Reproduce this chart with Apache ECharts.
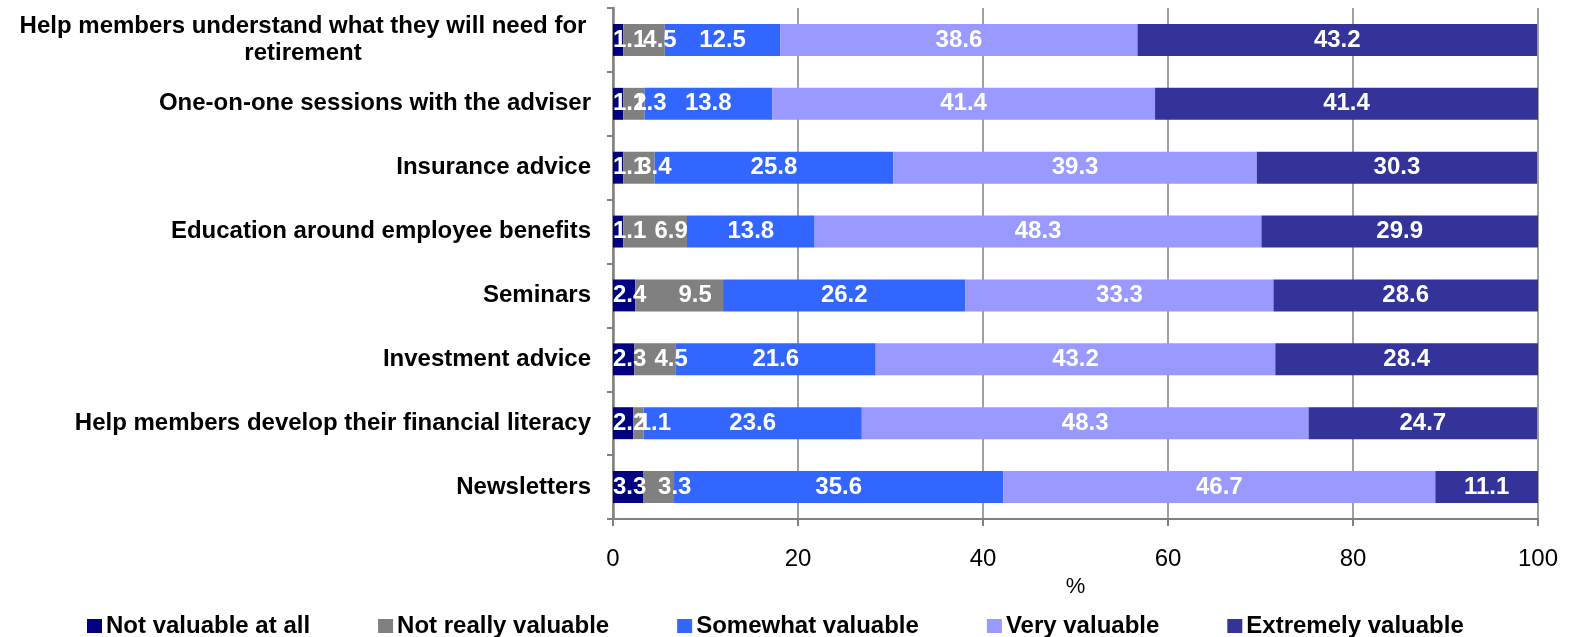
<!DOCTYPE html>
<html lang="en">
<head>
    <meta charset="UTF-8">
    <title>Value of adviser services</title>
    <style>
        html, body { margin: 0; padding: 0; background: #fff; }
        #main { width: 1572px; height: 637px; }
    </style>
</head>
<body>
    <div id="main"></div>
<script src="https://cdn.jsdelivr.net/npm/echarts@6/dist/echarts.min.js"></script>
<script>
    // categories, top to bottom
    var categories = [
        'Help members understand what they will need for retirement',
        'One-on-one sessions with the adviser',
        'Insurance advice',
        'Education around employee benefits',
        'Seminars',
        'Investment advice',
        'Help members develop their financial literacy',
        'Newsletters'
    ];
    var notValuable = [1.1, 1.1, 1.1, 1.1, 2.4, 2.3, 2.2, 3.3];
    var notReally = [4.5, 2.3, 3.4, 6.9, 9.5, 4.5, 1.1, 3.3];
    var somewhat = [12.5, 13.8, 25.8, 13.8, 26.2, 21.6, 23.6, 35.6];
    var veryValuable = [38.6, 41.4, 39.3, 48.3, 33.3, 43.2, 48.3, 46.7];
    var extremely = [43.2, 41.4, 30.3, 29.9, 28.6, 28.4, 24.7, 11.1];
    var xTicks = [0, 20, 40, 60, 80, 100];

    var seriesNames = ['Not valuable at all', 'Not really valuable', 'Somewhat valuable', 'Very valuable', 'Extremely valuable'];
    var seriesData = [notValuable, notReally, somewhat, veryValuable, extremely];
    var colors = ['#000080', '#808080', '#3366ff', '#9999ff', '#333399'];

    var sans = '"Liberation Sans", Arial, sans-serif';

    var myChart = echarts.init(document.getElementById('main'));

    var series = seriesNames.map(function (name, i) {
        var label = {
            show: true,
            position: 'inside',
            color: '#fff',
            fontFamily: sans,
            fontWeight: 'bold',
            fontSize: 24,
            textBorderWidth: 0
        };
        // the thin first segments: label starts at the bar's left end, the next one is pushed right
        if (i === 0) {
            label.position = 'insideLeft';
            label.distance = 0;
        } else if (i === 1) {
            label.offset = [16, 0];
        }
        return {
            name: name,
            type: 'bar',
            stack: 'total',
            barWidth: '50%',
            data: seriesData[i],
            itemStyle: { color: colors[i] },
            label: label,
            emphasis: { disabled: true }
        };
    });

    var option = {
        animation: false,
        color: colors,
        grid: { left: 613, right: 34, top: 8, bottom: 118 },
        xAxis: {
            type: 'value',
            min: 0,
            max: 100,
            interval: 20,
            name: '%',
            nameLocation: 'middle',
            nameGap: 47,
            nameTextStyle: { fontFamily: sans, fontSize: 22, color: '#000' },
            axisLine: { show: true, lineStyle: { color: '#808080', width: 2 } },
            axisTick: { show: true, length: 7, lineStyle: { color: '#808080', width: 2 } },
            splitLine: { show: true, lineStyle: { color: '#808080', width: 1.5 } },
            axisLabel: {
                margin: 28,
                fontFamily: sans,
                fontSize: 24,
                color: '#000',
                formatter: function (v) { return xTicks.indexOf(v) >= 0 ? String(v) : ''; }
            }
        },
        yAxis: {
            type: 'category',
            inverse: true,
            data: categories,
            axisLine: { show: true, lineStyle: { color: '#808080', width: 2.5 } },
            axisTick: { show: true, length: 6, lineStyle: { color: '#808080', width: 2 } },
            axisLabel: {
                margin: 22,
                fontFamily: sans,
                fontWeight: 'bold',
                fontSize: 24,
                color: '#000',
                lineHeight: 27,
                formatter: function (v) {
                    if (v.length > 50) {
                        return '{c|Help members understand what they will need for}\n{c|retirement}';
                    }
                    return v;
                },
                rich: {
                    c: {
                        width: 576,
                        align: 'center',
                        fontFamily: sans,
                        fontWeight: 'bold',
                        fontSize: 24,
                        lineHeight: 27,
                        color: '#000'
                    }
                }
            }
        },
        legend: {
            top: 609,
            left: 82,
            itemWidth: 15,
            itemHeight: 14,
            itemGap: 68,
            icon: 'rect',
            textStyle: { fontFamily: sans, fontWeight: 'bold', fontSize: 24, color: '#000', padding: [0, 0, 0, -1] },
            data: seriesNames
        },
        series: series
    };

    myChart.setOption(option);
</script>
</body>
</html>
